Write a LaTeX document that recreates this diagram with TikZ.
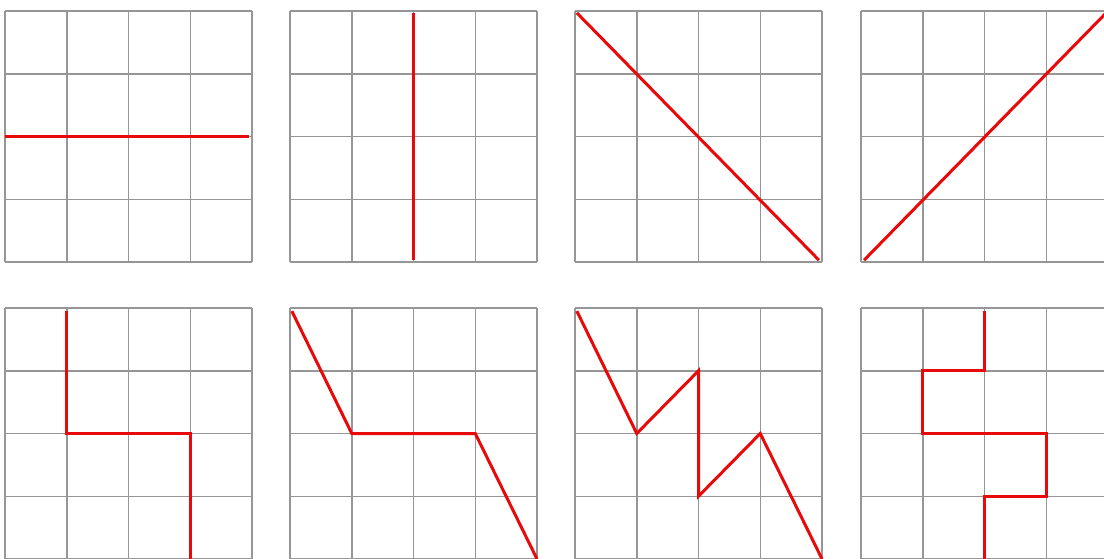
\documentclass[tikz,border=0pt]{standalone}
\begin{document}
\begin{tikzpicture}[x=1pt,y=-1pt,
  gridline/.style={draw={rgb,255:red,150;green,150;blue,150}, line width=1.5pt},
  redpath/.style={draw={rgb,255:red,232;green,10;blue,10}, line width=3pt, line join=miter}]
\useasboundingbox (0,0) rectangle (1104,558);
\clip (0,0) rectangle (1104,558);
\newcommand\mygrid[3]{%
  \begin{scope}[shift={(#1pt,-#2pt)}, x=61.75pt, y=-62.75pt]
    \foreach \k in {0,...,4} {
      \draw[gridline] (\k,0) -- (\k,4);
      \draw[gridline] (0,\k) -- (4,\k);
    }
    \draw[redpath] #3;
  \end{scope}}
% top row
\mygrid{5}{11}{(0,2) -- (3.95,2)}
\mygrid{290}{11}{(2,0.03) -- (2,3.97)}
\mygrid{575}{11}{(0.03,0.03) -- (3.95,3.97)}
\mygrid{861}{11}{(0.05,3.97) -- (4,0)}
% bottom row
\mygrid{5}{308}{(1,0.05) -- (1,2) -- (3,2) -- (3,4)}
\mygrid{290}{308}{(0.03,0.05) -- (1,2) -- (3,2) -- (4,4)}
\mygrid{575}{308}{(0.03,0.05) -- (1,2) -- (2,1) -- (2,3) -- (3,2) -- (4,4)}
\mygrid{861}{308}{(2,0.05) -- (2,1) -- (1,1) -- (1,2) -- (3,2) -- (3,3) -- (2,3) -- (2,4)}
\end{tikzpicture}
\end{document}
